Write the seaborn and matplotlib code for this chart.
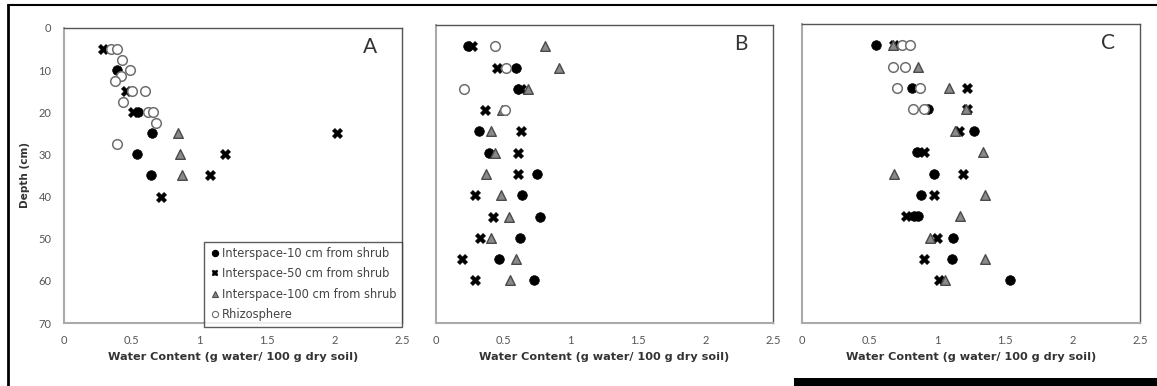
import matplotlib
matplotlib.use("Agg")
import matplotlib.pyplot as plt
import seaborn as sns
import pandas as pd
from matplotlib.patches import Rectangle
from matplotlib.lines import Line2D

sns.set_style("white")
plt.rcParams['font.family'] = ['Lato', 'DejaVu Sans']

series_names = ["Interspace-10 cm from shrub", "Interspace-50 cm from shrub",
                "Interspace-100 cm from shrub", "Rhizosphere"]

# Panel A
a_s10_x = [0.39, 0.55, 0.65, 0.54, 0.64]
a_s10_d = [10, 20, 25, 30, 35]
a_s50_x = [0.29, 0.46, 0.51, 2.02, 1.19, 1.08, 0.72]
a_s50_d = [5, 15, 20, 25, 30, 35, 40]
a_s100_x = [0.84, 0.86, 0.87]
a_s100_d = [25, 30, 35]
a_rh_x = [0.35, 0.39, 0.43, 0.49, 0.42, 0.38, 0.50, 0.60, 0.44, 0.62, 0.66, 0.68, 0.39]
a_rh_d = [5, 5, 7.5, 10, 11.5, 12.5, 15, 15, 17.5, 20, 20, 22.5, 27.5]

# Panel B
b_s10_x = [0.24, 0.59, 0.61, 0.32, 0.39, 0.75, 0.64, 0.77, 0.62, 0.47, 0.73]
b_s10_d = [5, 10, 15, 25, 30, 35, 40, 45, 50, 55, 60]
b_s50_x = [0.27, 0.45, 0.63, 0.36, 0.63, 0.61, 0.61, 0.29, 0.42, 0.33, 0.19, 0.29]
b_s50_d = [5, 10, 15, 20, 25, 30, 35, 40, 45, 50, 55, 60]
b_s100_x = [0.81, 0.91, 0.68, 0.49, 0.41, 0.44, 0.37, 0.48, 0.54, 0.41, 0.59, 0.55]
b_s100_d = [5, 10, 15, 20, 25, 30, 35, 40, 45, 50, 55, 60]
b_rh_x = [0.44, 0.52, 0.21, 0.51]
b_rh_d = [5, 10, 15, 20]

# Panel C
c_s10_x = [0.55, 0.81, 0.93, 1.27, 0.85, 0.98, 0.88, 0.83, 0.86, 1.12, 1.11, 1.54]
c_s10_d = [5, 15, 20, 25, 30, 35, 40, 45, 45, 50, 55, 60]
c_s50_x = [0.68, 1.22, 1.22, 1.16, 0.90, 1.19, 0.98, 0.77, 1.00, 0.90, 1.01]
c_s50_d = [5, 15, 20, 25, 30, 35, 40, 45, 50, 55, 60]
c_s100_x = [0.67, 0.86, 1.09, 1.21, 1.13, 1.34, 0.68, 1.35, 1.17, 0.95, 1.35, 1.06]
c_s100_d = [5, 10, 15, 20, 25, 30, 35, 40, 45, 50, 55, 60]
c_rh_x = [0.74, 0.80, 0.67, 0.76, 0.70, 0.87, 0.82, 0.90]
c_rh_d = [5, 5, 10, 10, 15, 15, 20, 20]

panel_labels = ["A", "B", "C"]
x_ticks = [0, 0.5, 1, 1.5, 2, 2.5]
x_tick_labels = ["0", "0.5", "1", "1.5", "2", "2.5"]
y_ticks = [0, 10, 20, 30, 40, 50, 60, 70]

panels = [
    [(a_s10_x, a_s10_d), (a_s50_x, a_s50_d), (a_s100_x, a_s100_d), (a_rh_x, a_rh_d)],
    [(b_s10_x, b_s10_d), (b_s50_x, b_s50_d), (b_s100_x, b_s100_d), (b_rh_x, b_rh_d)],
    [(c_s10_x, c_s10_d), (c_s50_x, c_s50_d), (c_s100_x, c_s100_d), (c_rh_x, c_rh_d)],
]

styles = [
    dict(marker="o", s=48, color="black", edgecolor="black", linewidth=0.5),
    dict(marker="X", s=55, color="black", edgecolor="black", linewidth=0.3),
    dict(marker="^", s=48, color="#8a8a8a", edgecolor="#4a4a4a", linewidth=1.0),
    dict(marker="o", s=48, color="white", edgecolor="#6e6e6e", linewidth=1.1),
]

W, H = 1157, 386
fig = plt.figure(figsize=(W / 100, H / 100), dpi=100)

boxes = [(64, 402, 28, 323), (436, 773, 25, 323), (802, 1140, 24, 323)]
axes = []
for (l, r, t, b) in boxes:
    ax = fig.add_axes([l / W, 1 - b / H, (r - l) / W, (b - t) / H])
    axes.append(ax)

for i, ax in enumerate(axes):
    for j, (xs, ds) in enumerate(panels[i]):
        df = pd.DataFrame({"water": xs, "depth": ds})
        sns.scatterplot(data=df, x="water", y="depth", ax=ax, zorder=3 + j, **styles[j])
    ax.set_xlim(0, 2.5)
    ax.set_ylim(70, 0)
    ax.set_xticks(x_ticks)
    ax.set_xticklabels(x_tick_labels)
    ax.set_yticks(y_ticks)
    ax.tick_params(axis="both", length=0, labelsize=8, labelcolor="#555555", pad=9)
    ax.set_xlabel("Water Content (g water/ 100 g dry soil)", fontsize=8.1, fontweight="bold",
                  color="#333333", labelpad=4, family=["DejaVu Sans"])
    if i == 0:
        ax.set_ylabel("Depth (cm)", fontsize=7.6, fontweight="bold", color="#333333",
                      labelpad=6, family=["DejaVu Sans"])
    else:
        ax.set_ylabel("")
        ax.set_yticklabels([])
    for name, sp in ax.spines.items():
        sp.set_visible(True)
        sp.set_linewidth(1.0)
        sp.set_color("#555555")
    ax.spines["bottom"].set_color("#aaaaaa")
    ax.spines["bottom"].set_linewidth(1.5)
    ax.spines["left"].set_color("#aaaaaa")
    ax.spines["left"].set_linewidth(1.5)
    ax.text(0.905, 0.935, panel_labels[i], transform=ax.transAxes, fontsize=15,
            color="#333333", ha="center", va="center")
    ax.grid(False)

handles = [Line2D([], [], linestyle="none", marker=styles[k]["marker"],
                  markersize=4.5 if k != 1 else 5,
                  markerfacecolor=styles[k]["color"], markeredgecolor=styles[k]["edgecolor"],
                  markeredgewidth=0.8 if k != 1 else 0.3)
           for k in range(4)]
leg = axes[0].legend(handles, series_names, loc="lower right", bbox_to_anchor=(1.0, -0.012),
                     borderaxespad=0, frameon=True, fancybox=False,
                     prop={"family": "DejaVu Sans", "size": 8.3},
                     handletextpad=0.15, handlelength=0.9, labelspacing=0.62,
                     borderpad=0.5, labelcolor="#444444")
leg.get_frame().set_edgecolor("#333333")
leg.get_frame().set_linewidth(1.0)

# outer frame lines and bottom bar
fig.add_artist(Line2D([8 / W, 8 / W], [0, 1 - 5 / H], transform=fig.transFigure,
                      color="black", linewidth=2))
fig.add_artist(Line2D([8 / W, 1], [1 - 5 / H, 1 - 5 / H], transform=fig.transFigure,
                      color="black", linewidth=1.5))
fig.add_artist(Rectangle((794 / W, 0), 1 - 794 / W, 8 / H, transform=fig.transFigure,
                         facecolor="black", edgecolor="none"))

fig.savefig("out.png", dpi=100)
